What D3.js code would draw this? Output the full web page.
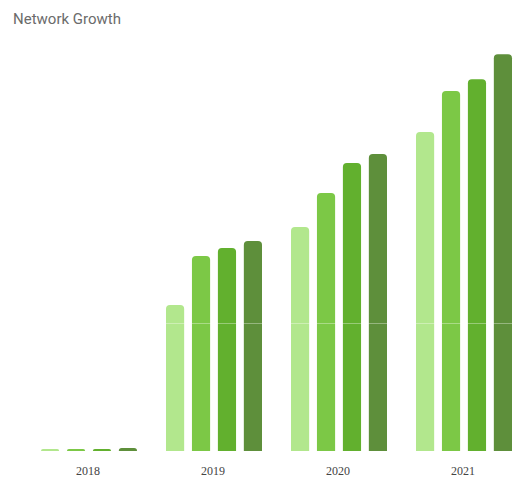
<!DOCTYPE html>
<html>
<head>
<meta charset="utf-8">
<script src="https://cdn.jsdelivr.net/npm/d3@7"></script>
<style>
  body { margin: 0; background: #fff; }
</style>
</head>
<body>
<div id="chart"></div>
<script>
// data
var years = ['2018', '2019', '2020', '2021'];
var series = ['s1', 's2', 's3', 's4'];
var s1 = [6, 456, 700, 997];
var s2 = [6, 609, 806, 1125];
var s3 = [6, 634, 900, 1162];
var s4 = [9, 656, 928, 1240];
var gridTicks = [400];

var colors = ['#b2e78d', '#7cc846', '#62b02e', '#5e8f3b'];

const width = 517, height = 477;
const baseY = 451;

var rows = years.map((y, i) => ({year: y, values: [s1[i], s2[i], s3[i], s4[i]]}));

var svg = d3.select('#chart')
            .append('svg')
            .attr('width', width)
            .attr('height', height);

// title
svg.append('text')
    .attr('x', 13)
    .attr('y', 24)
    .text('Network Growth')
    .style('font-family', 'Roboto')
    .style('font-size', '15px')
    .style('fill', '#6b6b6b');

var x0 = d3.scaleBand()
            .domain(years)
            .range([25.5, 525.5])
            .padding(0);

var x1 = d3.scaleBand()
            .domain(series)
            .range([15.5, 111.5])
            .paddingInner(0.3)
            .paddingOuter(0);

var y = d3.scaleLinear()
            .domain([0, 1250])
            .range([baseY, 51]);

var color = d3.scaleOrdinal().domain(series).range(colors);

// bar with rounded top corners
function barPath(x, yTop, w, h) {
    var r = Math.min(4, h, w / 2);
    return 'M' + x + ',' + (yTop + h) +
        'V' + (yTop + r) +
        'Q' + x + ',' + yTop + ' ' + (x + r) + ',' + yTop +
        'H' + (x + w - r) +
        'Q' + (x + w) + ',' + yTop + ' ' + (x + w) + ',' + (yTop + r) +
        'V' + (yTop + h) + 'Z';
}

var groups = svg.selectAll('.yearGroup')
                .data(rows)
                .enter()
                .append('g')
                .attr('class', 'yearGroup')
                .attr('transform', d => `translate(${x0(d.year)}, 0)`);

groups.selectAll('path')
    .data(d => d.values.map((v, i) => ({key: series[i], value: v})))
    .enter()
    .append('path')
    .attr('d', d => barPath(x1(d.key), y(d.value), x1.bandwidth(), baseY - y(d.value)))
    .attr('fill', d => color(d.key));

// faint grid line sits over the bars
svg.selectAll('.grid')
    .data(gridTicks)
    .enter()
    .append('line')
    .attr('class', 'grid')
    .attr('x1', 25)
    .attr('x2', 517)
    .attr('y1', d => Math.round(y(d)) + 0.5)
    .attr('y2', d => Math.round(y(d)) + 0.5)
    .attr('stroke', '#fff')
    .attr('stroke-opacity', 0.35)
    .attr('stroke-width', 1);

// x axis labels
var xAxis = d3.axisBottom(x0).tickSize(0).tickPadding(0);
var gx = svg.append('g')
            .attr('transform', `translate(0, ${baseY + 15})`)
            .call(xAxis);
gx.select('.domain').remove();
gx.selectAll('text')
    .style('font-family', 'Liberation Serif')
    .style('font-size', '12px')
    .style('fill', '#444');
</script>
</body>
</html>
